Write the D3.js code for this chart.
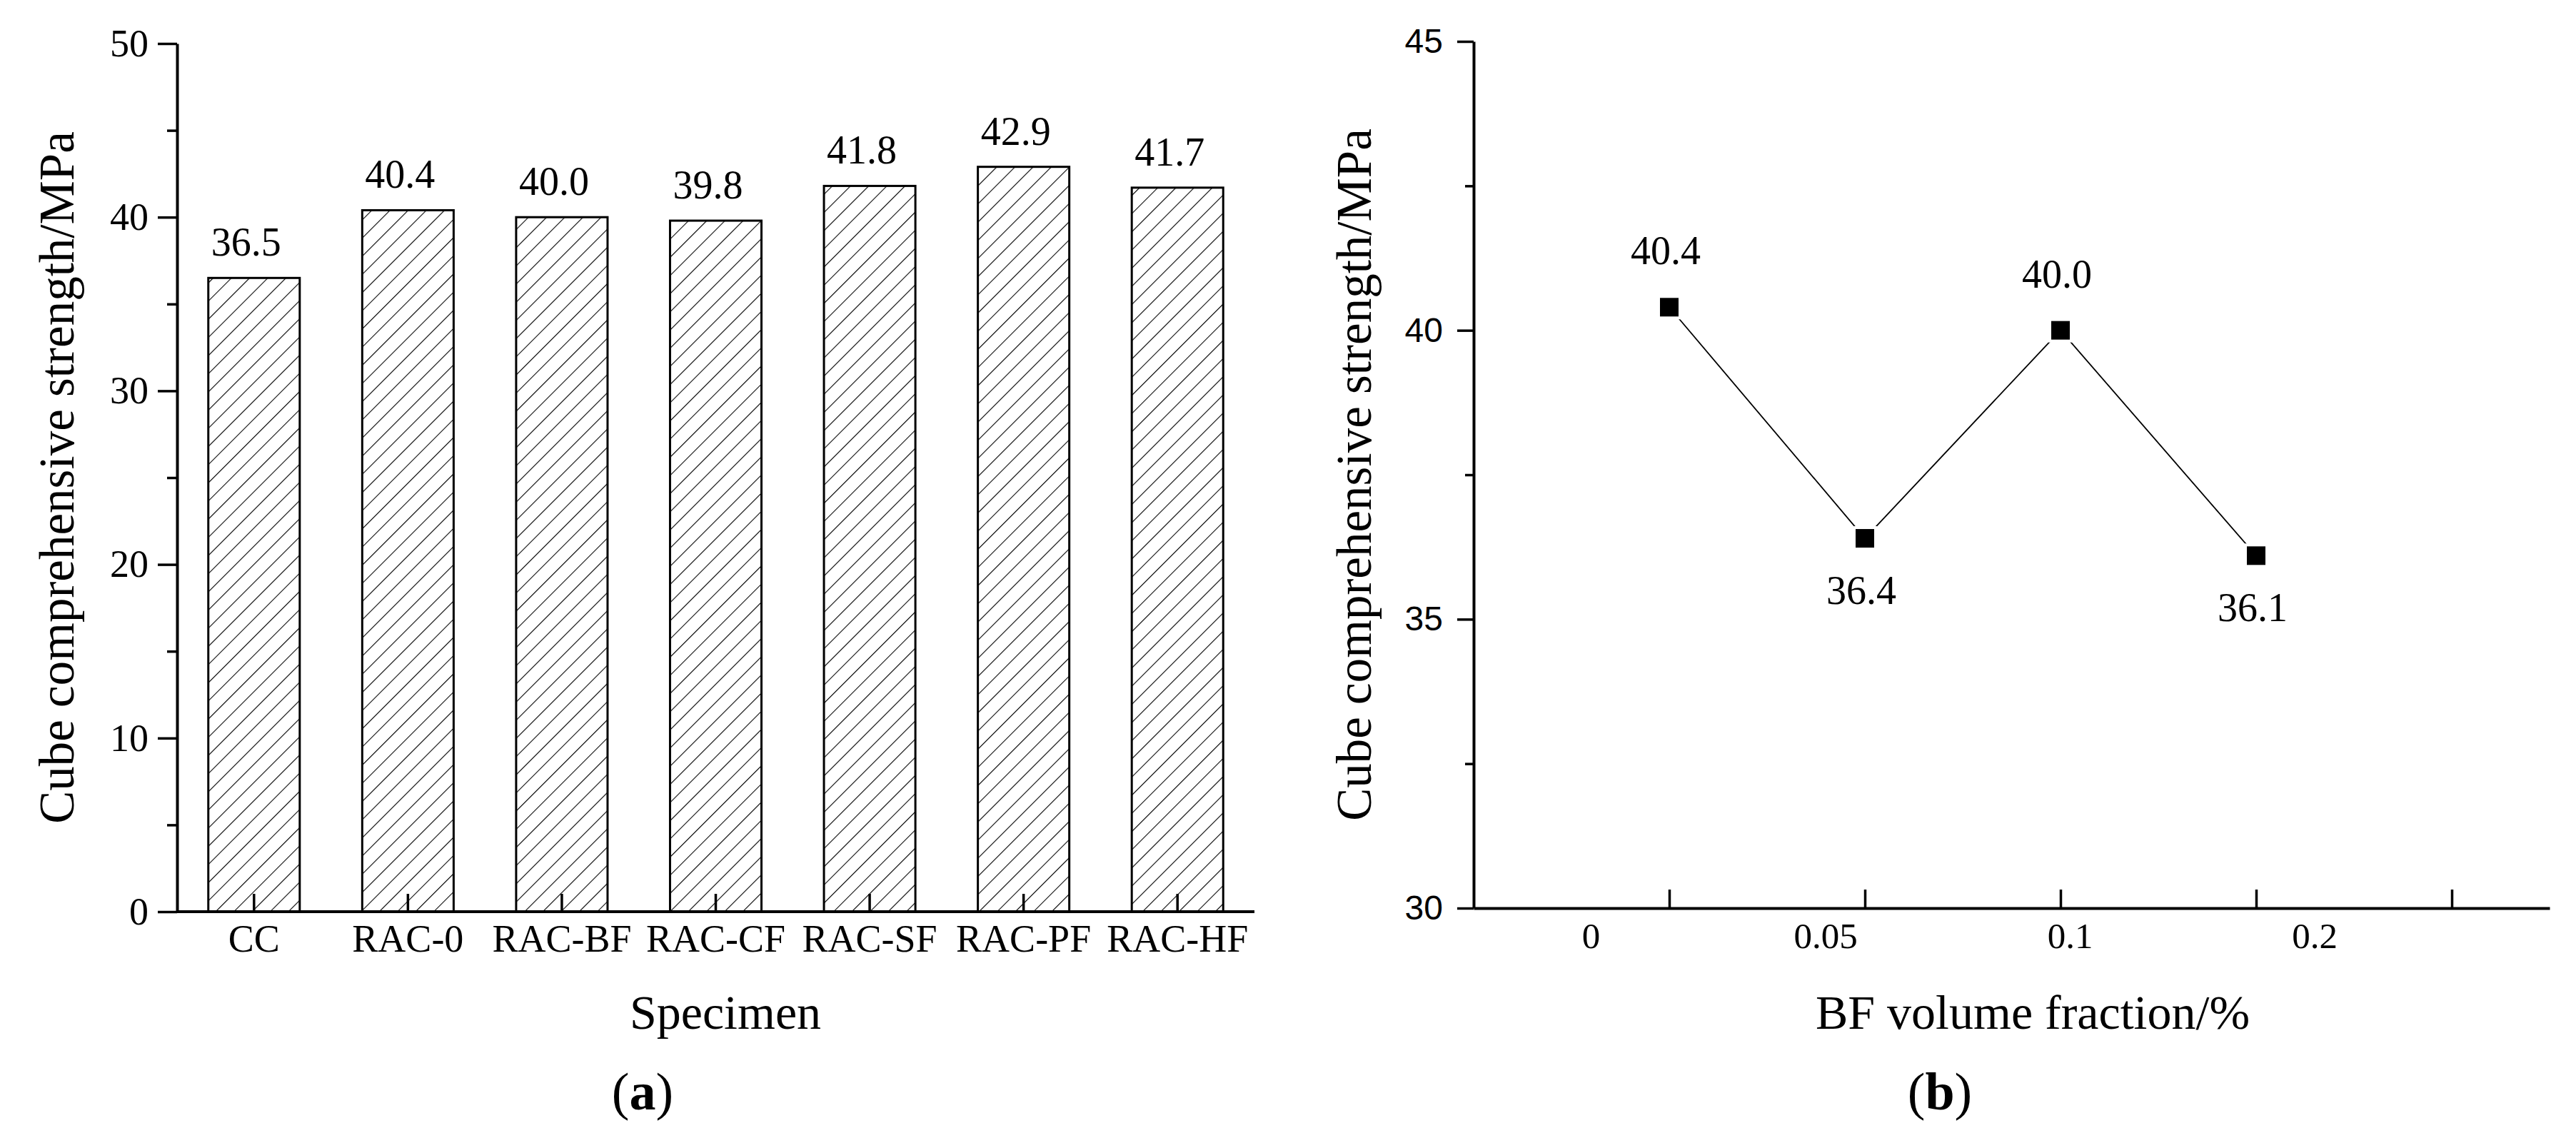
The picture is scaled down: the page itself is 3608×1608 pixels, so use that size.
<!DOCTYPE html>
<html>
<head>
<meta charset="utf-8">
<script src="https://cdn.jsdelivr.net/npm/d3@7"></script>
<style>
  html, body { margin: 0; padding: 0; background: #fff; }
  svg { display: block; }
</style>
</head>
<body>
<script>
// ---------- data ----------
const categories = ["CC", "RAC-0", "RAC-BF", "RAC-CF", "RAC-SF", "RAC-PF", "RAC-HF"];
const strengthA = [36.5, 40.4, 40.0, 39.8, 41.8, 42.9, 41.7];
const yTicksA = [0, 10, 20, 30, 40, 50];
const yMinorA = [5, 15, 25, 35, 45];

const bfPointPos = [1, 2, 3, 4];
const bfStrength = [40.4, 36.4, 40.0, 36.1];
const bfLabelSide = ["above", "below", "above", "below"];
const xTicksB = [1, 2, 3, 4, 5];
const xTickLabelsB = ["0", "0.05", "0.1", "0.2"];
const xTickLabelPosB = [0.6, 1.8, 3.05, 4.3];
const yTicksB = [30, 35, 40, 45];
const yMinorB = [32.5, 37.5, 42.5];

// ---------- setup ----------
const W = 3608, H = 1608;
const serif = "'Liberation Serif', 'Times New Roman', serif";
const sans = "'Liberation Sans', Arial, sans-serif";

const svg = d3.select("body").append("svg")
  .attr("width", W).attr("height", H)
  .attr("viewBox", `0 0 ${W} ${H}`);
svg.append("rect").attr("width", W).attr("height", H).attr("fill", "#fff");

const defs = svg.append("defs");
const pat = defs.append("pattern")
  .attr("id", "hatch")
  .attr("patternUnits", "userSpaceOnUse")
  .attr("width", 18).attr("height", 18)
  .attr("patternTransform", "rotate(45)");
pat.append("rect").attr("width", 18).attr("height", 18).attr("fill", "#fff");
pat.append("line").attr("x1", 0).attr("y1", 0).attr("x2", 0).attr("y2", 18)
  .attr("stroke", "#000").attr("stroke-width", 2.2);

function styleAxis(g, font, size) {
  g.select(".domain").attr("stroke", "#000").attr("stroke-width", 4);
  g.selectAll(".tick line").attr("stroke", "#000").attr("stroke-width", 3.5);
  g.selectAll(".tick text").attr("fill", "#000")
    .style("font-family", font).style("font-size", size + "px");
}

// ================= Panel (a) =================
const ax0 = 248, ax1 = 1757, ayTop = 61, ayBot = 1277;
const xA = d3.scaleBand().domain(categories).range([ax0, ax1])
  .paddingInner(0.406).paddingOuter(0.203);
const yA = d3.scaleLinear().domain([0, 50]).range([ayBot, ayTop]);

const gA = svg.append("g");

// bars
gA.selectAll("rect.bar").data(strengthA).join("rect")
  .attr("class", "bar")
  .attr("x", (d, i) => xA(categories[i]))
  .attr("y", d => yA(d))
  .attr("width", xA.bandwidth())
  .attr("height", d => yA(0) - yA(d))
  .attr("fill", "url(#hatch)")
  .attr("stroke", "#000").attr("stroke-width", 3);

// value labels
gA.selectAll("text.val").data(strengthA).join("text")
  .attr("class", "val")
  .attr("x", (d, i) => xA(categories[i]) + xA.bandwidth() / 2 - 11)
  .attr("y", d => yA(d) - 31)
  .attr("text-anchor", "middle")
  .style("font-family", serif).style("font-size", "56px")
  .text(d => d.toFixed(1));

// y axis minor
const gAyMinor = gA.append("g").attr("transform", `translate(${ax0},0)`)
  .call(d3.axisLeft(yA).tickValues(yMinorA).tickSize(14).tickSizeOuter(0).tickFormat(""));
styleAxis(gAyMinor, serif, 54);
gAyMinor.select(".domain").remove();

// y axis major
const gAy = gA.append("g").attr("transform", `translate(${ax0},0)`)
  .call(d3.axisLeft(yA).tickValues(yTicksA).tickSize(27).tickSizeOuter(0).tickPadding(13));
styleAxis(gAy, serif, 54);

// x axis
const gAx = gA.append("g").attr("transform", `translate(0,${ayBot})`)
  .call(d3.axisBottom(xA).tickSize(-25).tickSizeOuter(0).tickPadding(18));
styleAxis(gAx, serif, 54);
gAx.select(".domain").attr("d", `M${ax0},0H${ax1}`);

// titles
gA.append("text")
  .attr("transform", `translate(103,${(ayTop + ayBot) / 2}) rotate(-90)`)
  .attr("text-anchor", "middle")
  .style("font-family", serif).style("font-size", "69px")
  .text("Cube comprehensive strength/MPa");
gA.append("text")
  .attr("x", 1016).attr("y", 1441)
  .attr("text-anchor", "middle")
  .style("font-family", serif).style("font-size", "68px")
  .text("Specimen");
const la = gA.append("text")
  .attr("x", 900).attr("y", 1554)
  .attr("text-anchor", "middle")
  .style("font-family", serif).style("font-size", "74px");
la.append("tspan").text("(");
la.append("tspan").attr("font-weight", "bold").text("a");
la.append("tspan").text(")");

// ================= Panel (b) =================
const bx0 = 2064, bx1 = 3571, byTop = 58, byBot = 1272;
const xB = d3.scaleLinear().domain([0, 5.5]).range([bx0, bx1]);
const yB = d3.scaleLinear().domain([30, 45]).range([byBot, byTop]);

const gB = svg.append("g");

// y axis minor
const gByMinor = gB.append("g").attr("transform", `translate(${bx0},0)`)
  .call(d3.axisLeft(yB).tickValues(yMinorB).tickSize(12).tickSizeOuter(0).tickFormat(""));
styleAxis(gByMinor, sans, 48);
gByMinor.select(".domain").remove();

// y axis major
const gBy = gB.append("g").attr("transform", `translate(${bx0},0)`)
  .call(d3.axisLeft(yB).tickValues(yTicksB).tickSize(23).tickSizeOuter(0).tickPadding(20));
styleAxis(gBy, sans, 48);

// x axis
const gBx = gB.append("g").attr("transform", `translate(0,${byBot})`)
  .call(d3.axisBottom(xB).tickValues(xTicksB).tickSize(-26).tickSizeOuter(0).tickFormat(""));
styleAxis(gBx, serif, 51);

// x tick labels (placed as in the original figure)
gB.selectAll("text.xlab").data(xTickLabelsB).join("text")
  .attr("class", "xlab")
  .attr("x", (d, i) => xB(xTickLabelPosB[i]))
  .attr("y", 1328)
  .attr("text-anchor", "middle")
  .style("font-family", serif).style("font-size", "51px")
  .text(d => d);

// line
const line = d3.line().x((d, i) => xB(bfPointPos[i])).y(d => yB(d));
gB.append("path").datum(bfStrength)
  .attr("d", line).attr("fill", "none")
  .attr("stroke", "#000").attr("stroke-width", 1.8);

// markers with small white gap
const ms = 26;
gB.selectAll("rect.halo").data(bfStrength).join("rect")
  .attr("class", "halo")
  .attr("x", (d, i) => xB(bfPointPos[i]) - ms / 2 - 4)
  .attr("y", d => yB(d) - ms / 2 - 4)
  .attr("width", ms + 8).attr("height", ms + 8)
  .attr("fill", "#fff");
gB.selectAll("rect.mk").data(bfStrength).join("rect")
  .attr("class", "mk")
  .attr("x", (d, i) => xB(bfPointPos[i]) - ms / 2)
  .attr("y", d => yB(d) - ms / 2)
  .attr("width", ms).attr("height", ms)
  .attr("fill", "#000");

// value labels
gB.selectAll("text.val").data(bfStrength).join("text")
  .attr("class", "val")
  .attr("x", (d, i) => xB(bfPointPos[i]) - 5)
  .attr("y", (d, i) => yB(d) + (bfLabelSide[i] === "above" ? -60 : 92))
  .attr("text-anchor", "middle")
  .style("font-family", serif).style("font-size", "56px")
  .text(d => d.toFixed(1));

// titles
gB.append("text")
  .attr("transform", `translate(1920,${(byTop + byBot) / 2}) rotate(-90)`)
  .attr("text-anchor", "middle")
  .style("font-family", serif).style("font-size", "69px")
  .text("Cube comprehensive strength/MPa");
gB.append("text")
  .attr("x", 2847).attr("y", 1441)
  .attr("text-anchor", "middle")
  .style("font-family", serif).style("font-size", "68px")
  .text("BF volume fraction/%");
const lb = gB.append("text")
  .attr("x", 2717).attr("y", 1554)
  .attr("text-anchor", "middle")
  .style("font-family", serif).style("font-size", "74px");
lb.append("tspan").text("(");
lb.append("tspan").attr("font-weight", "bold").text("b");
lb.append("tspan").text(")");
</script>
</body>
</html>
